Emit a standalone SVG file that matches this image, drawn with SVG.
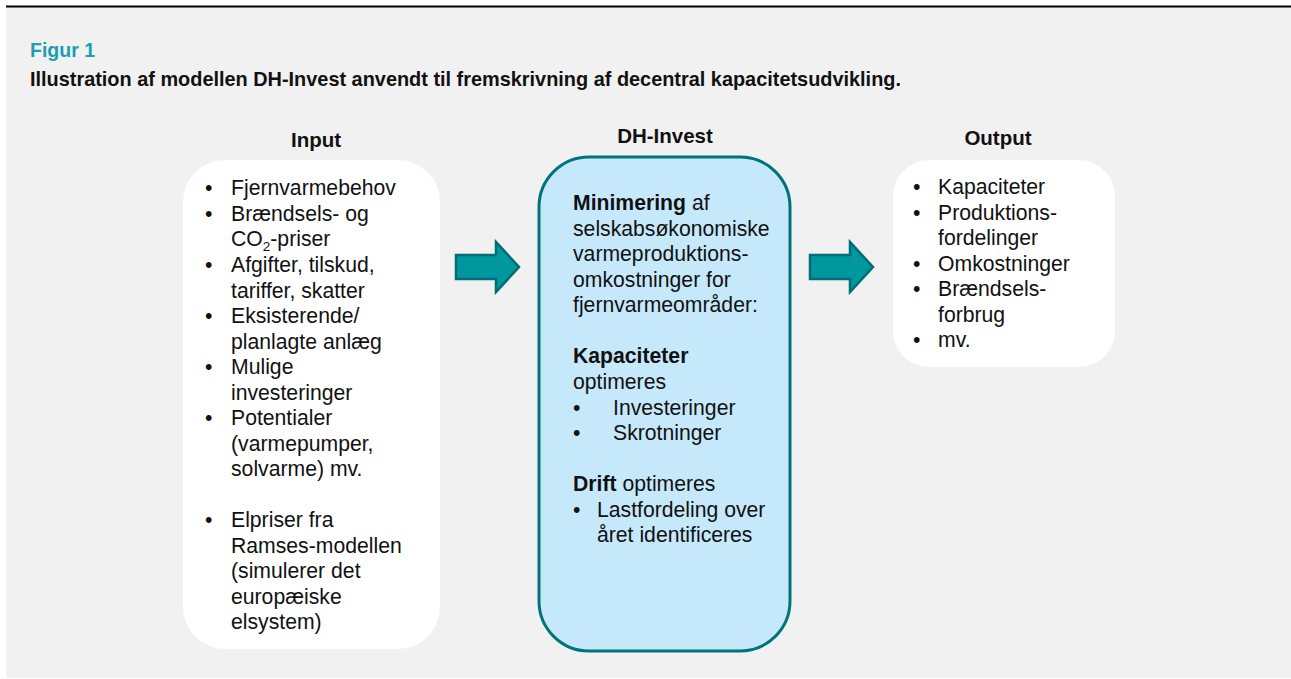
<svg xmlns="http://www.w3.org/2000/svg" width="1291" height="679" viewBox="0 0 1291 679">
<style>
text{font-family:"Liberation Sans",Arial,sans-serif;fill:#111}
.hd{font-size:20.5px;font-weight:bold;text-anchor:middle}
.t{font-size:21.2px}
.b{font-weight:bold}
.box{fill:#ffffff}
.arrow{fill:#00989e;stroke:#006e74;stroke-width:2.5;stroke-linejoin:miter}
</style>
<defs>
<path id="arr" d="M0,-12 H40 V-25 L63,0 L40,25 V12 H0 Z"/>
</defs>
<rect x="6" y="7" width="1285" height="671" fill="#f1f1f1"/>
<line x1="6" y1="6.5" x2="1291" y2="6.5" stroke="#000" stroke-width="2"/>
<text x="30" y="57" style="font-size:19.5px;font-weight:bold;fill:#1a9fb0">Figur 1</text>
<text x="30" y="86" style="font-size:19.9px;font-weight:bold">Illustration af modellen DH-Invest anvendt til fremskrivning af decentral kapacitetsudvikling.</text>

<g id="input">
<text class="hd" x="316" y="147">Input</text>
<rect class="box" x="183" y="160" width="257" height="489" rx="42"/>
<g class="t">
<text x="205" y="195">•</text><text x="231" y="195">Fjernvarmebehov</text>
<text x="205" y="221">•</text><text x="231" y="221">Brændsels- og</text>
<text x="231" y="246">CO<tspan font-size="13.5" dy="5">2</tspan><tspan dy="-5">-priser</tspan></text>
<text x="205" y="272">•</text><text x="231" y="272">Afgifter, tilskud,</text>
<text x="231" y="298">tariffer, skatter</text>
<text x="205" y="323">•</text><text x="231" y="323">Eksisterende/</text>
<text x="231" y="349">planlagte anlæg</text>
<text x="205" y="374">•</text><text x="231" y="374">Mulige</text>
<text x="231" y="400">investeringer</text>
<text x="205" y="425">•</text><text x="231" y="425">Potentialer</text>
<text x="231" y="451">(varmepumper,</text>
<text x="231" y="476">solvarme) mv.</text>
<text x="205" y="527">•</text><text x="231" y="527">Elpriser fra</text>
<text x="231" y="553">Ramses-modellen</text>
<text x="231" y="578">(simulerer det</text>
<text x="231" y="604">europæiske</text>
<text x="231" y="629">elsystem)</text>
</g>
</g>

<g id="dhinvest">
<text class="hd" x="665" y="143">DH-Invest</text>
<rect x="539" y="157" width="251" height="494" rx="50" fill="#c6e8fb" stroke="#00747a" stroke-width="3"/>
<g class="t">
<text x="573" y="210"><tspan class="b">Minimering</tspan> af</text>
<text x="573" y="236">selskabsøkonomiske</text>
<text x="573" y="261">varmeproduktions-</text>
<text x="573" y="287">omkostninger for</text>
<text x="573" y="312">fjernvarmeområder:</text>
<text x="573" y="363" class="b">Kapaciteter</text>
<text x="573" y="389">optimeres</text>
<text x="573" y="415">•</text><text x="613" y="415">Investeringer</text>
<text x="573" y="440">•</text><text x="613" y="440">Skrotninger</text>
<text x="573" y="491"><tspan class="b">Drift</tspan> optimeres</text>
<text x="573" y="517">•</text><text x="597" y="517">Lastfordeling over</text>
<text x="597" y="542">året identificeres</text>
</g>
</g>

<g id="output">
<text class="hd" x="998" y="145">Output</text>
<rect class="box" x="893" y="160" width="222" height="207" rx="36"/>
<g class="t">
<text x="913" y="194">•</text><text x="938" y="194">Kapaciteter</text>
<text x="913" y="220">•</text><text x="938" y="220">Produktions-</text>
<text x="938" y="245">fordelinger</text>
<text x="913" y="271">•</text><text x="938" y="271">Omkostninger</text>
<text x="913" y="296">•</text><text x="938" y="296">Brændsels-</text>
<text x="938" y="322">forbrug</text>
<text x="913" y="347">•</text><text x="938" y="347">mv.</text>
</g>
</g>

<g id="connectors">
<use href="#arr" class="arrow" x="456" y="267"/>
<use href="#arr" class="arrow" x="810" y="267"/>
</g>
</svg>
